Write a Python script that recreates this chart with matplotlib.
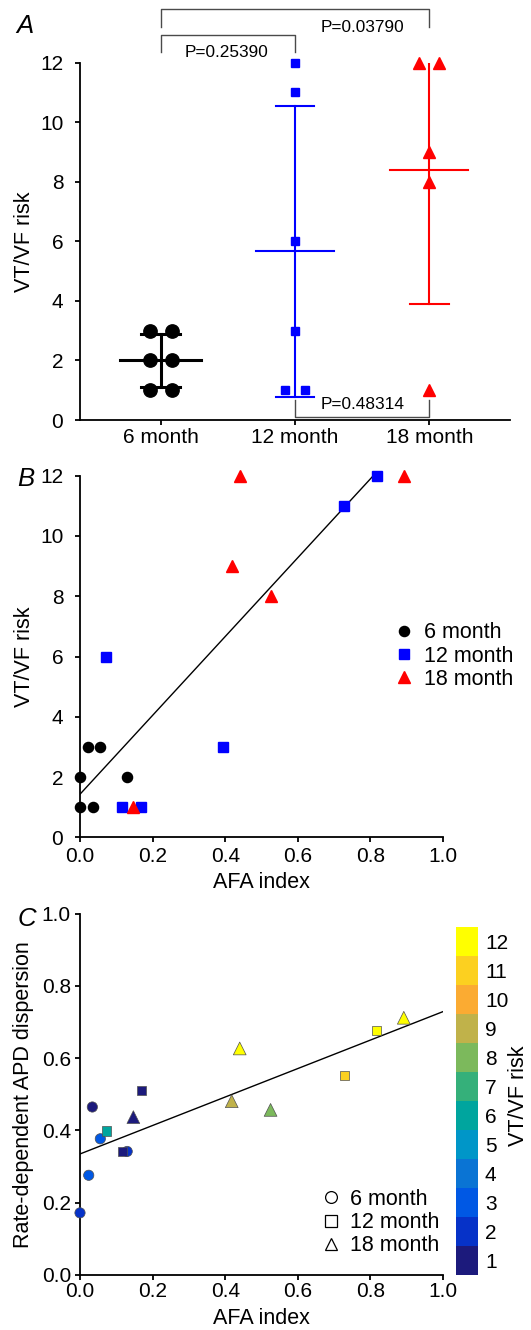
import numpy as np
import matplotlib
matplotlib.use('Agg')
import matplotlib.pyplot as plt
from matplotlib.colors import ListedColormap, BoundaryNorm
from matplotlib.cm import ScalarMappable

plt.rcParams['font.family'] = ['Liberation Sans', 'DejaVu Sans']

# ---------------- data ----------------
groups = ['6 month', '12 month', '18 month']
risk_6 = [3, 3, 2, 2, 1, 1]
risk_12 = [12, 11, 6, 3, 1, 1]
risk_18 = [12, 12, 9, 8, 1]
p_labels = ['P=0.25390', 'P=0.03790', 'P=0.48314']

# panel B
afa_6 = [0.0, 0.0, 0.036, 0.0215, 0.054, 0.13]
vt_6 = [1, 2, 1, 3, 3, 2]
afa_12 = [0.073, 0.393, 0.117, 0.169, 0.728, 0.817]
vt_12 = [6, 3, 1, 1, 11, 12]
afa_18 = [0.147, 0.418, 0.44, 0.525, 0.892]
vt_18 = [1, 9, 12, 8, 12]
fitB_x = [0.0, 0.808]
fitB_y = [1.43, 12.0]

# panel C
afaC_6 = [0.0, 0.024, 0.056, 0.034, 0.13]
apdC_6 = [0.172, 0.276, 0.377, 0.465, 0.342]
riskC_6 = [2, 3, 3, 1, 2]
afaC_12 = [0.073, 0.117, 0.169, 0.728, 0.817]
apdC_12 = [0.398, 0.342, 0.510, 0.552, 0.677]
riskC_12 = [6, 1, 1, 11, 12]
afaC_18 = [0.147, 0.418, 0.44, 0.525, 0.892]
apdC_18 = [0.437, 0.481, 0.627, 0.457, 0.712]
riskC_18 = [1, 9, 12, 8, 12]
fitC_x = [0.0, 1.0]
fitC_y = [0.335, 0.729]

risk_levels = list(range(1, 13))
risk_colors = ['#1c1a7c', '#0632c8', '#0058e4', '#0a74d4', '#0096c8', '#00a59e',
               '#35b07a', '#7cb95c', '#c0b24a', '#fbab32', '#fcd020', '#ffff00']

# ---------------- figure ----------------
W, H = 531, 1330
fig = plt.figure(figsize=(W / 100, H / 100), dpi=100)

FS = 15
lw_spine = 1.3


def px_axes(l, t, r, b):
    return fig.add_axes([l / W, 1 - b / H, (r - l) / W, (b - t) / H])


def style(ax, xpad, ypad):
    for s in ['top', 'right']:
        ax.spines[s].set_visible(False)
    for s in ['left', 'bottom']:
        ax.spines[s].set_linewidth(lw_spine)
    ax.tick_params(axis='both', direction='out', length=3.5, width=lw_spine,
                   labelsize=FS)
    ax.tick_params(axis='x', pad=xpad)
    ax.tick_params(axis='y', pad=ypad)


# ---------- Panel A ----------
axA = px_axes(80, 62.7, 510, 420)
style(axA, 2, 8.5)
axA.set_xlim(-0.6, 2.6)
axA.set_ylim(0, 12)
axA.set_yticks(range(0, 13, 2))
axA.set_xticks(range(3))
axA.set_xticklabels(groups)

groupsA = [risk_6, risk_12, risk_18]
colsA = ['black', '#0000ff', '#ff0000']
markA = ['o', 's', '^']
msA = [9.6, 6.2, 8.0]
lwA = [2.2, 1.5, 1.5]
mean_hw = [0.30, 0.29, 0.29]
for i, vals in enumerate(groupsA):
    v = np.array(vals, dtype=float)
    m, sd = v.mean(), v.std(ddof=1)
    c = colsA[i]
    axA.plot([i, i], [m - sd, m + sd], color=c, lw=lwA[i], zorder=2)
    axA.plot([i - 0.145, i + 0.145], [m - sd, m - sd], color=c, lw=lwA[i], zorder=2)
    axA.plot([i - 0.145, i + 0.145], [m + sd, m + sd], color=c, lw=lwA[i], zorder=2)
    axA.plot([i - mean_hw[i], i + mean_hw[i]], [m, m], color=c, lw=lwA[i], zorder=2)
    # spread duplicates side by side
    uniq, counts = np.unique(v, return_counts=True)
    for u, n in zip(uniq, counts):
        offs = (np.arange(n) - (n - 1) / 2) * (0.165 if i == 0 else 0.15)
        axA.plot(i + offs, [u] * n, linestyle='none', marker=markA[i],
                 ms=msA[i], color=c, mec=c, clip_on=False, zorder=3)
axA.set_ylabel('VT/VF risk', fontsize=FS + 0.5)
axA.yaxis.set_label_coords((24.4 - 80) / 430, 0.5)
axA.yaxis.label.set_va('center')

# significance brackets
bc = '#4a4a4a'
blw = 1.0
axA.plot([0, 0, 2, 2], [13.21, 13.80, 13.80, 13.21], color=bc, lw=blw, clip_on=False)
axA.plot([0, 0, 1, 1], [12.37, 12.93, 12.93, 12.37], color=bc, lw=blw, clip_on=False)
axA.plot([1, 1, 2, 2], [0.67, 0.11, 0.11, 0.67], color=bc, lw=blw, clip_on=False, zorder=1)
axA.text(0.49, 12.2, p_labels[0], ha='center', va='baseline', fontsize=12.4)
axA.text(1.5, 13.04, p_labels[1], ha='center', va='baseline', fontsize=12.4)
axA.text(1.5, 0.37, p_labels[2], ha='center', va='baseline', fontsize=12.4)

# ---------- Panel B ----------
axB = px_axes(80, 475.7, 443, 837.3)
style(axB, 3.5, 8.5)
axB.set_xlim(0, 1.0)
axB.set_ylim(0, 12)
axB.set_xticks(np.arange(0, 1.01, 0.2))
axB.set_xticklabels(['0.0', '0.2', '0.4', '0.6', '0.8', '1.0'])
axB.set_yticks(range(0, 13, 2))
axB.plot(fitB_x, fitB_y, color='black', lw=1.0, zorder=2)
axB.plot(afa_6, vt_6, 'o', color='black', ms=7.3, label=groups[0], clip_on=False, zorder=3)
axB.plot(afa_12, vt_12, 's', color='#0000ff', ms=6.8, label=groups[1], clip_on=False, zorder=3)
axB.plot(afa_18, vt_18, '^', color='#ff0000', ms=8.0, label=groups[2], clip_on=False, zorder=3)
axB.set_ylabel('VT/VF risk', fontsize=FS + 0.5)
axB.yaxis.set_label_coords((24.4 - 80) / 363, 0.5)
axB.yaxis.label.set_va('center')
axB.set_xlabel('AFA index', fontsize=FS + 0.5)
axB.xaxis.set_label_coords(0.5, -45.7 / 361.6)
axB.xaxis.label.set_va('center')
axB.legend(loc='center left', bbox_to_anchor=(0.864, 0.501), frameon=False,
           fontsize=FS + 0.5, handlelength=1.0, handletextpad=0.4,
           labelspacing=0.1, borderpad=0, borderaxespad=0, numpoints=1)

# ---------- Panel C ----------
cmap = ListedColormap(risk_colors)
norm = BoundaryNorm(np.arange(0.5, 13.5, 1), cmap.N)

axC = px_axes(80, 913.7, 443, 1275)
style(axC, 1.5, 3)
axC.set_xlim(0, 1.0)
axC.set_ylim(0, 1.0)
axC.set_xticks(np.arange(0, 1.01, 0.2))
axC.set_xticklabels(['0.0', '0.2', '0.4', '0.6', '0.8', '1.0'])
axC.set_yticks(np.arange(0, 1.01, 0.2))
axC.set_yticklabels(['0.0', '0.2', '0.4', '0.6', '0.8', '1.0'])
axC.plot(fitC_x, fitC_y, color='black', lw=1.0, zorder=2)
ec = '#505050'
axC.scatter(afaC_6, apdC_6, c=riskC_6, cmap=cmap, norm=norm, marker='o',
            s=7.4 ** 2, edgecolors=ec, linewidths=0.5, clip_on=False, zorder=3)
axC.scatter(afaC_12, apdC_12, c=riskC_12, cmap=cmap, norm=norm, marker='s',
            s=6.8 ** 2, edgecolors=ec, linewidths=0.5, clip_on=False, zorder=3)
axC.scatter(afaC_18, apdC_18, c=riskC_18, cmap=cmap, norm=norm, marker='^',
            s=9.2 ** 2, edgecolors=ec, linewidths=0.5, clip_on=False, zorder=3)
axC.set_ylabel('Rate-dependent APD dispersion', fontsize=FS + 0.5)
axC.yaxis.set_label_coords((23.7 - 80) / 363, 0.5)
axC.yaxis.label.set_va('center')
axC.set_xlabel('AFA index', fontsize=FS + 0.5)
axC.xaxis.set_label_coords(0.5, -43 / 361.3)
axC.xaxis.label.set_va('center')

hC = [axC.plot([], [], 'o', mfc='white', mec='black', mew=0.9, ms=8.5)[0],
      axC.plot([], [], 's', mfc='white', mec='black', mew=0.9, ms=8)[0],
      axC.plot([], [], '^', mfc='white', mec='black', mew=0.9, ms=9)[0]]
axC.legend(hC, groups, loc='center left', bbox_to_anchor=(0.661, 0.145), frameon=False,
           fontsize=FS + 0.5, handlelength=1.0, handletextpad=0.4,
           labelspacing=0.1, borderpad=0, borderaxespad=0, numpoints=1)

# colorbar
cax = px_axes(456, 926.7, 478, 1275)
cb = fig.colorbar(ScalarMappable(norm=norm, cmap=cmap), cax=cax, ticks=risk_levels)
cb.outline.set_visible(False)
cax.minorticks_off()
cax.tick_params(which='both', length=0, pad=5, labelsize=FS)
cax.text(2.84, 0.515, 'VT/VF risk', rotation=90, ha='center', va='center',
         fontsize=FS + 0.5, transform=cax.transAxes)

# panel letters
fig.text(25 / W, 1 - 33 / H, 'A', fontsize=18.5, style='italic', ha='center', va='baseline')
fig.text(26 / W, 1 - 486 / H, 'B', fontsize=18.5, style='italic', ha='center', va='baseline')
fig.text(27 / W, 1 - 926 / H, 'C', fontsize=18.5, style='italic', ha='center', va='baseline')

fig.savefig('out.png', dpi=100)
